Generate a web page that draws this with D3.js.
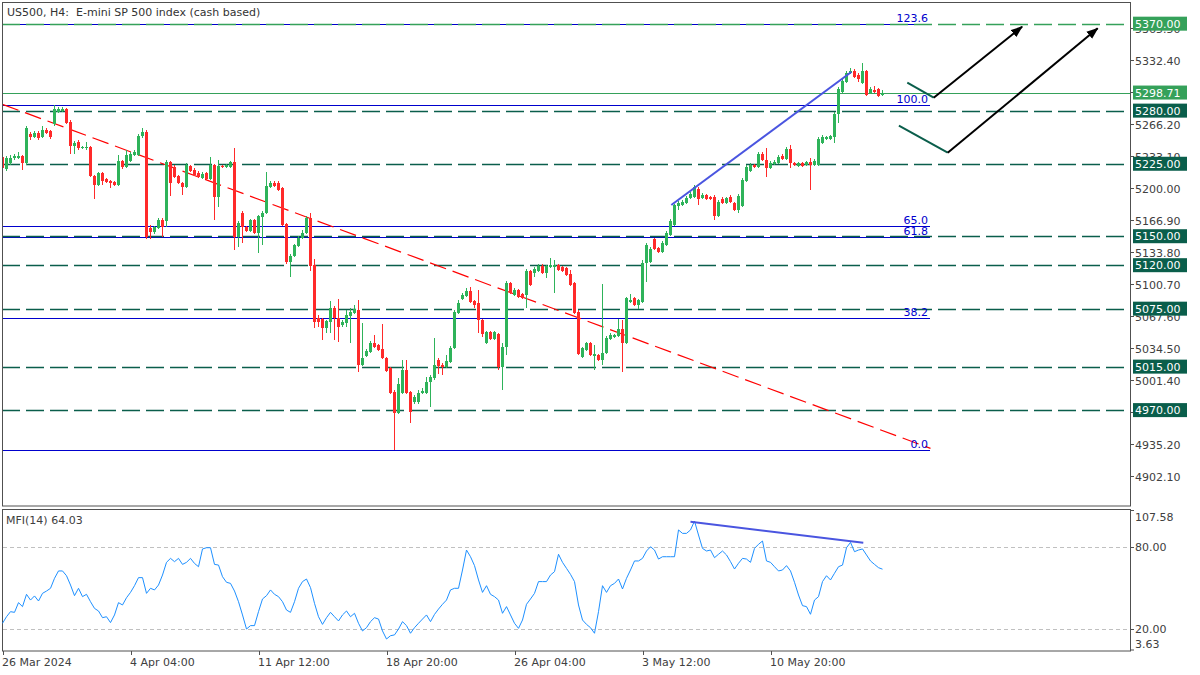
<!DOCTYPE html>
<html><head><meta charset="utf-8">
<script src="https://cdn.jsdelivr.net/npm/d3@7"></script>
<style>
html,body{margin:0;padding:0;background:#fff;}
svg{display:block;font-family:"DejaVu Sans",sans-serif;}
</style></head><body>
<svg id="c" width="1200" height="675"></svg>
<script>
// ---------------- DATA ----------------
const title = "US500, H4:  E-mini SP 500 index (cash based)";
const openP = [
5232.0,5219.6,5225.8,5231.0,5231.0,5233.0,5225.8,5255.8,5252.7,5256.8,
5252.7,5259.9,5258.9,5266.1,5278.6,5279.6,5281.7,5268.2,5243.4,5247.5,
5241.3,5241.3,5242.3,5212.3,5203.0,5215.4,5209.2,5207.1,5206.1,5203.0,
5227.8,5221.6,5227.8,5234.1,5234.1,5253.7,5257.9,5158.5,5154.4,5158.5,
5166.8,5165.7,5226.8,5221.6,5212.3,5205.1,5200.9,5222.7,5218.5,5215.4,
5210.2,5215.4,5209.2,5223.7,5190.6,5222.7,5221.6,5221.6,5226.8,5149.2,
5174.0,5159.5,5155.4,5166.8,5153.3,5169.9,5174.0,5200.9,5205.1,5205.1,
5199.9,5162.6,5123.3,5129.5,5139.9,5148.1,5153.3,5168.8,5120.2,5065.3,
5064.3,5055.0,5061.2,5075.7,5065.3,5058.1,5060.2,5067.4,5070.5,5073.6,
5016.7,5026.0,5030.1,5039.5,5037.4,5033.3,5023.9,5013.6,4988.7,4967.0,
4987.7,5011.5,4988.7,4978.4,4978.4,4987.7,4987.7,4999.1,5003.2,5021.9,
5016.7,5014.6,5019.8,5034.3,5070.5,5085.0,5088.1,5093.3,5082.9,5080.9,
5063.3,5039.5,5050.8,5043.6,5048.8,5014.6,5035.3,5101.6,5089.1,5094.3,
5090.2,5089.1,5114.0,5111.9,5114.0,5119.2,5111.9,5118.1,5118.1,5120.2,
5118.1,5117.1,5110.9,5101.6,5071.6,5025.0,5032.2,5039.5,5026.0,5027.0,
5021.9,5029.1,5043.6,5045.7,5046.7,5054.0,5039.5,5081.9,5086.0,5078.8,
5081.9,5122.3,5123.3,5147.1,5137.8,5133.7,5140.9,5151.3,5161.6,5181.3,
5182.3,5184.4,5189.6,5190.6,5198.9,5189.6,5192.7,5190.6,5190.6,5170.9,
5188.5,5184.4,5190.6,5184.4,5177.1,5181.3,5207.1,5217.5,5223.7,5221.6,
5235.1,5228.9,5220.6,5224.7,5225.8,5233.0,5229.9,5240.3,5225.8,5222.7,
5225.8,5223.7,5226.8,5223.7,5223.7,5246.5,5250.6,5250.6,5252.7,5276.5,
5299.3,5309.6,5318.9,5321.0,5316.9,5308.6,5321.0,5298.2,5301.3,5302.4,
5296.2];
const highP = [
5234.1,5233.0,5234.1,5235.1,5237.2,5234.1,5264.1,5257.9,5258.9,5258.9,
5264.1,5262.0,5259.9,5285.8,5283.7,5283.7,5282.7,5270.3,5248.5,5249.6,
5243.4,5247.5,5243.4,5213.4,5216.5,5216.5,5210.2,5208.2,5207.1,5234.1,
5228.9,5239.2,5237.2,5239.2,5255.8,5262.0,5259.9,5161.6,5160.6,5168.8,
5168.8,5228.9,5227.8,5223.7,5213.4,5206.1,5225.8,5223.7,5220.6,5217.5,
5216.5,5216.5,5232.0,5224.7,5228.9,5223.7,5224.7,5227.8,5241.3,5165.7,
5176.1,5160.6,5167.8,5167.8,5171.9,5176.1,5216.5,5207.1,5207.1,5207.1,
5200.9,5163.7,5131.6,5141.9,5150.2,5156.4,5170.9,5174.0,5126.4,5068.4,
5065.3,5063.3,5082.9,5077.8,5085.0,5063.3,5073.6,5075.7,5078.8,5084.0,
5060.2,5033.3,5041.5,5047.7,5038.4,5059.1,5025.0,5014.6,4990.8,5003.2,
5021.9,5021.9,4989.8,4985.6,4990.8,4992.9,5004.3,5006.3,5044.6,5023.9,
5018.8,5027.0,5036.4,5073.6,5084.0,5091.2,5096.4,5097.4,5084.0,5094.3,
5064.3,5051.9,5051.9,5051.9,5049.8,5039.5,5103.6,5102.6,5096.4,5095.4,
5091.2,5116.1,5115.0,5118.1,5121.2,5121.2,5120.2,5127.4,5125.4,5121.2,
5119.2,5118.1,5115.0,5102.6,5073.6,5035.3,5040.5,5040.5,5037.4,5028.1,
5100.5,5046.7,5049.8,5048.8,5064.3,5063.3,5087.1,5090.2,5087.1,5085.0,
5125.4,5143.0,5138.8,5148.1,5138.8,5145.0,5155.4,5167.8,5183.4,5186.4,
5187.5,5191.6,5195.8,5203.0,5200.9,5194.7,5193.7,5191.6,5192.7,5187.5,
5190.6,5190.6,5192.7,5185.4,5193.7,5210.2,5223.7,5225.8,5224.7,5237.2,
5237.2,5241.3,5227.8,5228.9,5234.1,5235.1,5242.3,5244.4,5226.8,5226.8,
5226.8,5227.8,5231.0,5229.9,5252.7,5254.8,5253.7,5254.8,5278.6,5304.4,
5312.7,5321.0,5324.1,5323.1,5318.9,5329.3,5322.0,5304.4,5305.5,5303.4,
5301.3];
const lowP = [
5218.5,5217.5,5223.7,5228.9,5229.9,5218.5,5223.7,5249.6,5251.7,5249.6,
5251.7,5255.8,5250.6,5264.1,5277.5,5278.6,5266.1,5235.1,5235.1,5239.2,
5240.3,5239.2,5211.3,5188.5,5202.0,5203.0,5205.1,5199.9,5202.0,5202.0,
5219.6,5220.6,5226.8,5233.0,5233.0,5251.7,5147.1,5147.1,5152.3,5157.5,
5149.2,5159.5,5191.6,5210.2,5204.0,5192.7,5199.9,5216.5,5212.3,5210.2,
5209.2,5208.2,5208.2,5166.8,5180.2,5220.6,5220.6,5220.6,5135.7,5138.8,
5143.0,5154.4,5154.4,5152.3,5132.6,5140.9,5173.0,5199.9,5200.9,5196.8,
5160.6,5121.2,5107.8,5128.5,5138.8,5147.1,5152.3,5114.0,5055.0,5056.0,
5042.6,5049.8,5049.8,5042.6,5040.5,5056.0,5056.0,5039.5,5069.5,5009.4,
5015.7,5025.0,5029.1,5034.3,5031.2,5022.9,5009.4,4986.7,4928.7,4966.0,
4986.7,4986.7,4956.7,4976.3,4976.3,4986.7,4986.7,4973.2,5001.2,5007.4,
5006.3,5013.6,5018.8,5033.3,5069.5,5084.0,5087.1,5080.9,5075.7,5049.8,
5045.7,5038.4,5042.6,5042.6,5011.5,4990.8,5027.0,5090.2,5088.1,5086.0,
5085.0,5075.7,5098.5,5107.8,5113.0,5110.9,5106.8,5117.1,5091.2,5114.0,
5113.0,5108.8,5098.5,5069.5,5027.0,5023.9,5031.2,5026.0,5011.5,5020.8,
5016.7,5028.1,5042.6,5044.6,5045.7,5009.4,5038.4,5080.9,5077.8,5074.7,
5080.9,5102.6,5122.3,5135.7,5132.6,5132.6,5139.9,5150.2,5160.6,5177.1,
5181.3,5183.4,5188.5,5189.6,5182.3,5188.5,5187.5,5187.5,5166.8,5169.9,
5183.4,5183.4,5184.4,5176.1,5174.0,5180.2,5206.1,5216.5,5220.6,5220.6,
5227.8,5211.3,5219.6,5223.7,5224.7,5228.9,5228.9,5220.6,5222.7,5221.6,
5221.6,5222.7,5197.8,5222.7,5222.7,5245.4,5249.6,5249.6,5246.5,5267.2,
5298.2,5308.6,5317.9,5313.8,5309.6,5307.6,5295.1,5297.2,5298.2,5294.1,
5295.1];
const closeP = [
5220.6,5231.0,5231.0,5233.0,5233.0,5225.8,5262.0,5252.7,5256.8,5251.7,
5259.9,5256.8,5252.7,5281.7,5281.7,5281.7,5267.2,5243.4,5246.5,5241.3,
5242.3,5242.3,5212.3,5203.0,5215.4,5207.1,5206.1,5205.1,5203.0,5227.8,
5221.6,5234.1,5235.1,5237.2,5253.7,5257.9,5149.2,5154.4,5159.5,5166.8,
5159.5,5226.8,5205.1,5211.3,5205.1,5200.9,5223.7,5217.5,5213.4,5211.3,
5214.4,5209.2,5223.7,5190.6,5222.7,5221.6,5223.7,5226.8,5149.2,5163.7,
5159.5,5155.4,5166.8,5153.3,5170.9,5174.0,5202.0,5205.1,5202.0,5197.8,
5161.6,5123.3,5129.5,5140.9,5148.1,5153.3,5168.8,5119.2,5061.2,5061.2,
5055.0,5062.2,5075.7,5065.3,5056.0,5061.2,5068.4,5071.6,5074.7,5016.7,
5023.9,5031.2,5039.5,5035.3,5032.2,5023.9,5010.5,4987.7,4967.0,4997.0,
5011.5,4987.7,4968.0,4983.6,4987.7,4989.8,4999.1,5004.3,5016.7,5015.7,
5014.6,5020.8,5034.3,5071.6,5080.9,5089.1,5093.3,5081.9,5078.8,5063.3,
5048.8,5050.8,5043.6,5050.8,5014.6,5035.3,5101.6,5091.2,5094.3,5087.1,
5086.0,5114.0,5099.5,5116.1,5119.2,5111.9,5119.2,5120.2,5120.2,5115.0,
5114.0,5109.8,5099.5,5070.5,5028.1,5034.3,5039.5,5027.0,5028.1,5021.9,
5029.1,5044.6,5047.7,5047.7,5054.0,5039.5,5086.0,5084.0,5078.8,5084.0,
5122.3,5140.9,5136.8,5136.8,5133.7,5143.0,5153.3,5165.7,5182.3,5184.4,
5185.4,5189.6,5193.7,5200.9,5188.5,5192.7,5188.5,5188.5,5170.9,5185.4,
5184.4,5189.6,5185.4,5177.1,5191.6,5208.2,5221.6,5223.7,5221.6,5235.1,
5228.9,5220.6,5225.8,5226.8,5232.0,5229.9,5240.3,5225.8,5223.7,5225.8,
5222.7,5226.8,5223.7,5227.8,5250.6,5252.7,5252.7,5253.7,5276.5,5302.4,
5310.7,5318.9,5321.0,5314.8,5312.7,5321.0,5296.2,5302.4,5299.3,5295.1,
5298.7];
const mfi = [
24.4,29.2,32.9,32.4,39.5,36.6,45.6,41.4,44.4,40.7,
46.3,48.0,50.0,57.3,62.7,62.7,59.2,52.4,44.6,50.0,
43.9,45.6,40.2,35.3,33.4,28.5,29.2,24.9,30.5,39.5,
37.8,43.1,47.0,51.9,57.8,57.8,46.3,50.0,48.8,52.4,
59.7,69.0,71.9,69.5,71.9,67.5,69.0,71.9,68.2,65.8,
78.8,79.7,79.7,67.5,67.0,58.5,54.4,53.6,48.0,40.2,
30.5,20.2,22.7,22.7,32.9,42.2,44.6,48.8,45.6,43.9,
40.2,34.1,32.4,40.2,50.0,54.9,56.8,50.5,39.0,29.2,
23.6,28.5,32.4,29.2,26.1,30.5,33.4,29.2,31.7,24.4,
18.8,21.2,25.6,28.5,27.5,18.8,12.9,15.3,15.9,20.2,
25.6,22.7,17.1,21.2,24.4,27.5,30.5,25.6,30.9,34.8,
38.3,41.4,48.8,50.0,50.0,63.4,78.0,73.1,66.6,56.1,
47.0,51.9,45.6,43.9,41.4,31.7,36.6,30.5,24.4,20.7,
26.8,38.3,42.2,46.3,54.9,54.9,54.9,59.7,62.2,74.9,
69.0,64.6,60.2,54.9,37.8,26.8,23.6,21.2,17.1,32.9,
51.9,47.0,51.9,53.6,56.8,49.5,57.3,63.4,70.0,70.0,
71.9,77.3,80.4,78.0,71.4,73.1,73.1,73.1,73.1,92.7,
90.2,90.2,92.7,99.2,89.0,79.2,77.3,78.0,72.4,74.9,
77.3,74.4,69.5,64.1,68.3,71.9,71.4,69.0,79.2,82.2,
84.6,70.0,69.0,65.8,62.7,63.4,66.6,62.7,54.4,45.1,
37.3,36.6,31.0,41.4,43.9,54.9,59.2,56.1,61.0,65.8,
67.0,79.7,83.6,76.8,78.0,78.8,74.4,70.0,67.5,65.1,
64.0];
const mfiLabel = "MFI(14) 64.03";
const priceTicks = [4902.10,4935.20,4968.30,5001.40,5034.50,5067.60,5100.70,5133.80,5166.90,5200.00,5233.10,5266.20,5299.30,5332.40,5365.50];
const mfiTicks = [107.58,80.00,20.00,3.63];
const mfiGrid = [80,20];
const levelsDark = [5280,5225,5150,5120,5075,5015,4970];
const levelTop = 5370;
const bidPrice = 5298.71;
const fibLow = 4928.5, fibHigh = 5285.8;
const fibLevels = [0,38.2,61.8,65.0,100.0,123.6];
const fibBars = [0,232];
const xTickBars = [0,32,64,96,128,160,192];
const xTickLabels = ["26 Mar 2024","4 Apr 04:00","11 Apr 12:00","18 Apr 20:00","26 Apr 04:00","3 May 12:00","10 May 20:00"];
const redTrend = [[0,5286.5],[232,4930.4]];
const blueTrend = [[167.2,5182.3],[212.2,5320.0]];
const mfiTrend = [[172,98.7],[215.2,83.4]];
const greenStrokes = [[[226.2,5308.9],[232.8,5293.4]],[[224.1,5264.4],[236.3,5236.4]]];
const blackArrows = [[[232.8,5293.4],[254.9,5366.9]],[[236.3,5236.4],[273.8,5365.2]]];

// ---------------- DRAW ----------------
const svg = d3.select('#c');
const AX = 1130, MAIN_T = 2, MAIN_B = 506, MFI_T = 509, MFI_B = 651;
const x = d3.scaleLinear().domain([0,1]).range([2,6]);
const y = d3.scaleLinear().domain([4902.1,5332.4]).range([475.7,60]);
const ym = d3.scaleLinear().domain([20,80]).range([629.3,547.3]);
const cx = i => x(i) + 0.5;

const C_BULL = '#2eb35a', C_BEAR = '#ff2a2a', C_DARK = '#0a5e4b', C_LIGHT = '#35a15a',
      C_FIB = '#0000cd', C_TXT = '#404040', C_FRAME = '#505050';

svg.append('rect').attr('width',1200).attr('height',675).attr('fill','#fff');
const defs = svg.append('defs');
defs.append('clipPath').attr('id','clipMain').append('rect')
  .attr('x',2).attr('y',MAIN_T).attr('width',AX-2).attr('height',MAIN_B-MAIN_T);
defs.append('clipPath').attr('id','clipMfi').append('rect')
  .attr('x',2).attr('y',MFI_T).attr('width',AX-2).attr('height',MFI_B-MFI_T);
defs.append('marker').attr('id','arr').attr('markerUnits','userSpaceOnUse')
  .attr('markerWidth',12).attr('markerHeight',10).attr('refX',11).attr('refY',5)
  .attr('orient','auto').append('path').attr('d','M0,0.5 L12,5 L0,9.5 Z').attr('fill','#000');

const main = svg.append('g').attr('clip-path','url(#clipMain)');

// fib lines
const fibPrice = l => fibLow + (fibHigh - fibLow) * l / 100;
main.selectAll('.fib').data(fibLevels).enter().append('line')
  .attr('x1',x(fibBars[0])).attr('x2',x(fibBars[1]))
  .attr('y1',d=>Math.round(y(fibPrice(d)))+0.5).attr('y2',d=>Math.round(y(fibPrice(d)))+0.5)
  .attr('stroke',C_FIB).attr('stroke-width',1);

// dashed levels
main.selectAll('.lvl').data(levelsDark).enter().append('line')
  .attr('x1',2).attr('x2',AX)
  .attr('y1',d=>Math.round(y(d))+0.5).attr('y2',d=>Math.round(y(d))+0.5)
  .attr('stroke',C_DARK).attr('stroke-width',1.3).attr('stroke-dasharray','18,6');
main.append('line').attr('x1',2).attr('x2',AX)
  .attr('y1',Math.round(y(levelTop))+0.5).attr('y2',Math.round(y(levelTop))+0.5)
  .attr('stroke',C_LIGHT).attr('stroke-width',1.3).attr('stroke-dasharray','18,6');
// bid line
main.append('line').attr('x1',2).attr('x2',AX)
  .attr('y1',Math.round(y(bidPrice))+0.5).attr('y2',Math.round(y(bidPrice))+0.5)
  .attr('stroke',C_LIGHT).attr('stroke-width',1);

// red trend
main.append('line')
  .attr('x1',cx(redTrend[0][0])).attr('y1',y(redTrend[0][1]))
  .attr('x2',cx(redTrend[1][0])).attr('y2',y(redTrend[1][1]))
  .attr('stroke','#ff0000').attr('stroke-width',1.2).attr('stroke-dasharray','17,7');

// candles
const idx = d3.range(closeP.length);
const cg = main.append('g').attr('shape-rendering','crispEdges');
cg.selectAll('.wick').data(idx).enter().append('rect')
  .attr('x',i=>x(i)).attr('width',1)
  .attr('y',i=>y(highP[i])).attr('height',i=>Math.max(1,y(lowP[i])-y(highP[i])))
  .attr('fill',i=>closeP[i]>=openP[i]?C_BULL:C_BEAR);
cg.selectAll('.body').data(idx).enter().append('rect')
  .attr('x',i=>x(i)-1).attr('width',3)
  .attr('y',i=>y(Math.max(openP[i],closeP[i])))
  .attr('height',i=>Math.max(1,Math.abs(y(openP[i])-y(closeP[i]))))
  .attr('fill',i=>closeP[i]>=openP[i]?C_BULL:C_BEAR);

// blue trendline
main.append('line')
  .attr('x1',cx(blueTrend[0][0])).attr('y1',y(blueTrend[0][1]))
  .attr('x2',cx(blueTrend[1][0])).attr('y2',y(blueTrend[1][1]))
  .attr('stroke','#4a55e0').attr('stroke-width',2);

// scenario strokes
greenStrokes.forEach(s=>{
  main.append('line').attr('x1',cx(s[0][0])).attr('y1',y(s[0][1]))
    .attr('x2',cx(s[1][0])).attr('y2',y(s[1][1]))
    .attr('stroke',C_DARK).attr('stroke-width',2);
});
blackArrows.forEach(s=>{
  main.append('line').attr('x1',cx(s[0][0])).attr('y1',y(s[0][1]))
    .attr('x2',cx(s[1][0])).attr('y2',y(s[1][1]))
    .attr('stroke','#000').attr('stroke-width',2).attr('marker-end','url(#arr)');
});

// fib labels
svg.selectAll('.fibt').data(fibLevels).enter().append('text')
  .attr('x',x(fibBars[1])-2).attr('y',d=>Math.round(y(fibPrice(d)))-2)
  .attr('text-anchor','end').attr('font-size',11).attr('fill',C_FIB)
  .text(d=>d.toFixed(1));

// title
svg.append('text').attr('x',7).attr('y',16).attr('font-size',11).attr('fill','#333')
  .style('white-space','pre').text(title);

// frames
svg.append('rect').attr('x',2.5).attr('y',2.5).attr('width',AX-2).attr('height',MAIN_B-2.5)
  .attr('fill','none').attr('stroke',C_FRAME).attr('stroke-width',1);
svg.append('rect').attr('x',2.5).attr('y',MFI_T+0.5).attr('width',AX-2).attr('height',MFI_B-MFI_T-0.5)
  .attr('fill','none').attr('stroke',C_FRAME).attr('stroke-width',1);

// price axis ticks
const ax = svg.append('g');
priceTicks.forEach(p=>{
  const yy = Math.round(y(p))+0.5;
  if (yy < MAIN_T+3 || yy > MAIN_B-3) return;
  ax.append('line').attr('x1',AX).attr('x2',AX+4).attr('y1',yy).attr('y2',yy).attr('stroke',C_FRAME);
  ax.append('text').attr('x',AX+5).attr('y',yy+4).attr('font-size',11).attr('fill',C_TXT).text(p.toFixed(2));
});
// level boxes
function box(p, col){
  const yy = y(p);
  ax.append('rect').attr('x',AX+3).attr('y',yy-7).attr('width',54).attr('height',14).attr('fill',col);
  ax.append('text').attr('x',AX+5).attr('y',yy+4).attr('font-size',11).attr('fill','#fff').text(p.toFixed(2));
}
levelsDark.forEach(p=>box(p,C_DARK));
box(levelTop,C_LIGHT);
box(bidPrice,C_LIGHT);

// MFI panel
const mg = svg.append('g').attr('clip-path','url(#clipMfi)');
mg.selectAll('.mg').data(mfiGrid).enter().append('line')
  .attr('x1',3).attr('x2',AX).attr('y1',d=>Math.round(ym(d))+0.5).attr('y2',d=>Math.round(ym(d))+0.5)
  .attr('stroke','#c0c0c0').attr('stroke-dasharray','4,3');
mg.append('path').datum(idx)
  .attr('d',d3.line().x(i=>cx(i)).y(i=>ym(mfi[i])))
  .attr('fill','none').attr('stroke','#1e90ff').attr('stroke-width',1);
mg.append('line')
  .attr('x1',cx(mfiTrend[0][0])).attr('y1',ym(mfiTrend[0][1]))
  .attr('x2',cx(mfiTrend[1][0])).attr('y2',ym(mfiTrend[1][1]))
  .attr('stroke','#4a55e0').attr('stroke-width',2);
svg.append('text').attr('x',6).attr('y',524).attr('font-size',11).attr('fill',C_TXT).text(mfiLabel);
mfiTicks.forEach(v=>{
  const yy = Math.min(MFI_B-1, Math.max(MFI_T+1, Math.round(ym(v))+0.5));
  const ty = Math.min(MFI_B-7, Math.max(MFI_T+7.5, ym(v)));
  ax.append('line').attr('x1',AX).attr('x2',AX+4).attr('y1',yy).attr('y2',yy).attr('stroke',C_FRAME);
  ax.append('text').attr('x',AX+5).attr('y',ty+4).attr('font-size',11).attr('fill',C_TXT).text(v.toFixed(2));
});

// x axis
xTickBars.forEach((b,k)=>{
  const xx = Math.round(cx(b))+0.5;
  svg.append('line').attr('x1',xx).attr('x2',xx).attr('y1',MFI_B).attr('y2',MFI_B+4).attr('stroke',C_FRAME);
  svg.append('text').attr('x',x(b)).attr('y',666).attr('font-size',11).attr('fill',C_TXT).text(xTickLabels[k]);
});
</script>
</body></html>
